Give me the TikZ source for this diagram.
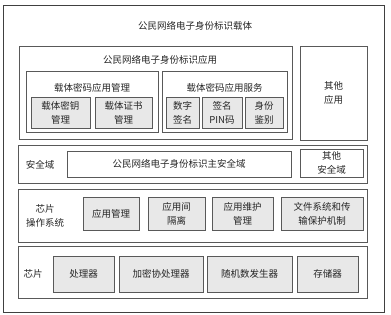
\documentclass[tikz,border=0pt]{standalone}
\usepackage{fontspec}
\setmainfont{Noto Sans CJK SC}
\begin{document}
\begin{tikzpicture}[x=1pt,y=-1pt,
  every node/.style={font=\fontsize{9.5}{14}\selectfont, text=black!85, inner sep=0pt, outer sep=0pt},
  frame/.style={draw=black!75, line width=0.7pt, fill=white, rectangle},
  grp/.style={draw=black!65, line width=0.8pt, fill=white, rectangle},
  cell/.style={draw=black!65, line width=0.8pt, fill=black!9, rectangle, align=center},
  wcell/.style={draw=black!65, line width=0.8pt, fill=white, rectangle, align=center},
  lbl/.style={align=center}]
\useasboundingbox (0,0) rectangle (391,315);
\node[frame, minimum width=381pt, minimum height=307pt] (outer) at (193.5,158.5) {};
\node (ttl) at (195,26) {公民网络电子身份标识载体};
% application
\node[grp, minimum width=273pt, minimum height=93pt] (app) at (155.5,92.5) {};
\node (appt) at (160,60) {公民网络电子身份标识应用};
\node[grp, minimum width=132pt, minimum height=61pt] (mgmt) at (92,101.5) {};
\node (mgmtt) at (92,88) {载体密码应用管理};
\node[cell, minimum width=59pt, minimum height=31pt] (key) at (60.5,112.5) {载体密钥\\管理};
\node[cell, minimum width=57pt, minimum height=31pt] (cert) at (123.5,112.5) {载体证书\\管理};
\node[grp, minimum width=125pt, minimum height=61pt] (svc) at (224.5,101.5) {};
\node (svct) at (224.5,88) {载体密码应用服务};
\node[cell, minimum width=33pt, minimum height=31pt] (sig) at (182.5,112.5) {数字\\签名};
\node[cell, minimum width=40pt, minimum height=31pt] (pin) at (222,112.5) {签名\\PIN码};
\node[cell, minimum width=38pt, minimum height=31pt] (auth) at (264,112.5) {身份\\鉴别};
\node[wcell, minimum width=67pt, minimum height=94pt] (oapp) at (333.5,93) {其他\\应用};
% security domain
\node[grp, minimum width=349pt, minimum height=38pt] (sec) at (192.5,164) {};
\node (sect) at (40,165) {安全域};
\node[wcell, minimum width=224pt, minimum height=26pt] (msec) at (179,164) {公民网络电子身份标识主安全域};
\node[wcell, minimum width=63pt, minimum height=28pt] (osec) at (331.5,163) {其他\\安全域};
% chip os
\node[grp, minimum width=349pt, minimum height=53pt] (os) at (192.5,215.5) {};
\node[lbl] (ost) at (45,215.5) {芯片\\操作系统};
\node[cell, minimum width=56pt, minimum height=33pt] (amg) at (111,213.5) {应用管理};
\node[cell, minimum width=57pt, minimum height=33pt] (iso) at (176.5,213.5) {应用间\\隔离};
\node[cell, minimum width=61pt, minimum height=33pt] (mnt) at (242.5,213.5) {应用维护\\管理};
\node[cell, minimum width=82pt, minimum height=33pt] (fs) at (322,213.5) {文件系统和传\\输保护机制};
% chip
\node[grp, minimum width=349pt, minimum height=52pt] (chip) at (192.5,272) {};
\node (chipt) at (33,274) {芯片};
\node[cell, minimum width=61pt, minimum height=36pt] (cpu) at (83.5,274) {处理器};
\node[cell, minimum width=84pt, minimum height=36pt] (cop) at (161,274) {加密协处理器};
\node[cell, minimum width=85pt, minimum height=36pt] (rng) at (249.5,274) {随机数发生器};
\node[cell, minimum width=61pt, minimum height=36pt] (mem) at (327.5,274) {存储器};
\end{tikzpicture}
\end{document}
